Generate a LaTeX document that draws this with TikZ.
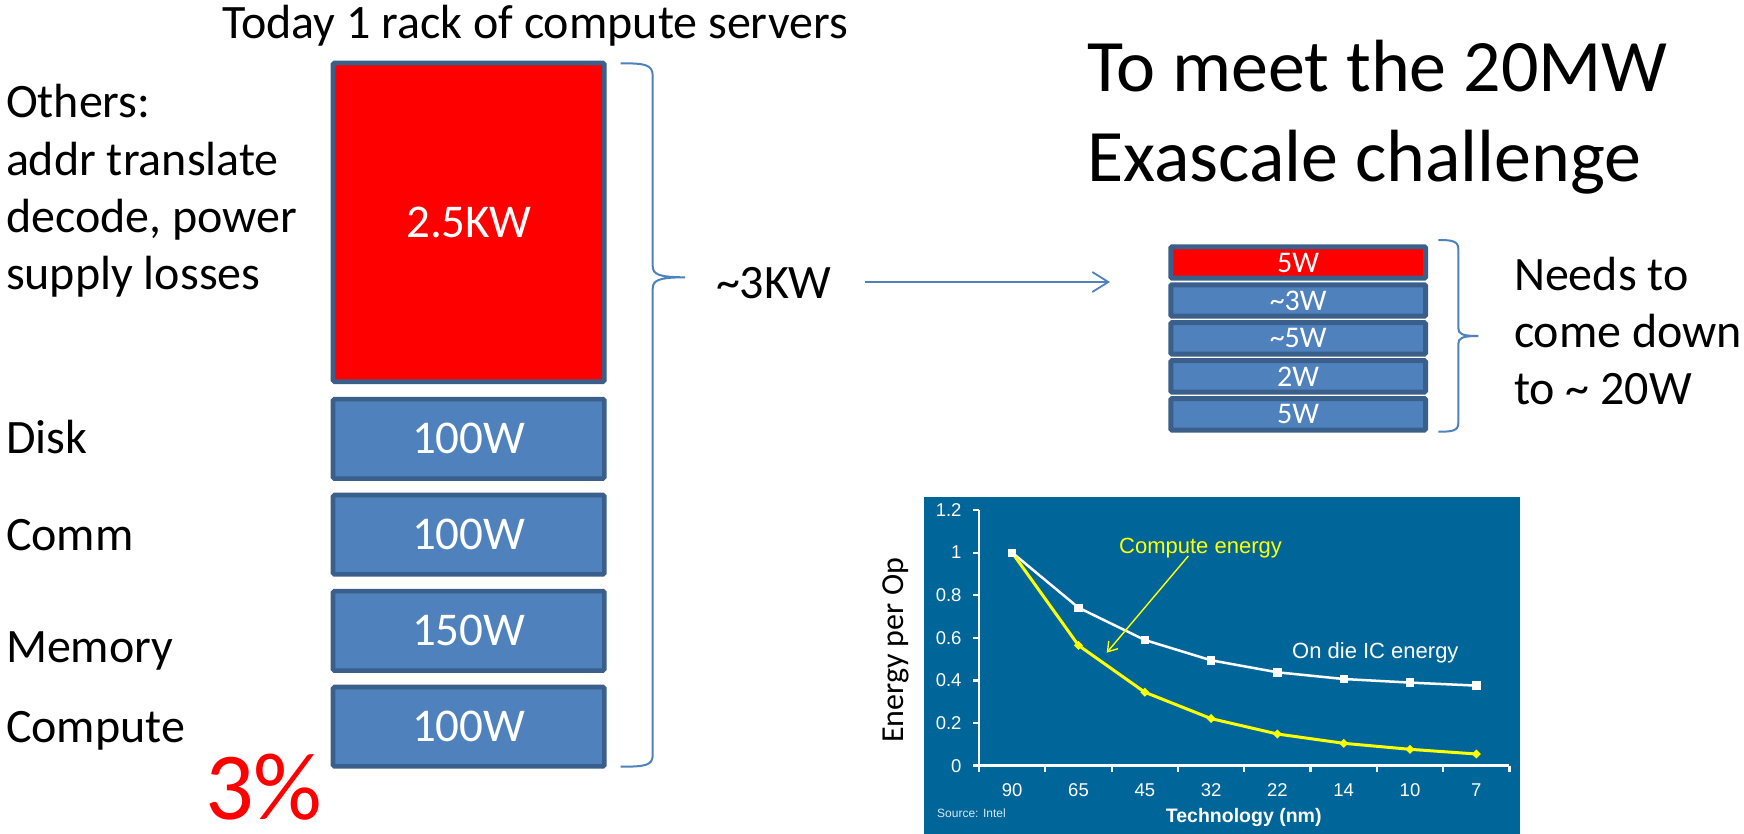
\documentclass[tikz,border=0pt]{standalone}
\usepackage{fontspec}
\setmainfont{Carlito}
\newfontfamily\arialfont{Liberation Sans}
\usetikzlibrary{arrows.meta}
\definecolor{boxfill}{HTML}{4F81BD}
\definecolor{boxline}{HTML}{3A5F8B}
\definecolor{bracecol}{HTML}{4F81BD}
\definecolor{chartbg}{HTML}{006699}
\definecolor{pptred}{HTML}{FF0000}
\definecolor{chartyellow}{HTML}{FFFF00}
\newcommand{\stacklines}[1]{\vtop{\halign{##\hfil\cr#1\crcr}}}
\tikzset{
  lbl/.style={inner sep=0pt, outer sep=0pt, anchor=base west, text=black, font=\fontsize{48}{57.3}\selectfont},
  bigbox/.style={draw=boxline, line width=4.6pt, rounded corners=1.5pt, inner sep=0pt, outer sep=0pt,
    text=white, font=\fontsize{47}{57}\selectfont, minimum width=271.4pt},
  rowbox/.style={draw=boxline, line width=5pt, rounded corners=1.2pt, inner sep=0pt, outer sep=0pt,
    text=white, font=\fontsize{30}{36}\selectfont, minimum width=254.7pt, minimum height=31.4pt},
  brace/.style={draw=bracecol, line width=2pt},
  conn/.style={draw=bracecol, line width=1.8pt, -{Straight Barb[length=16pt,width=20pt]}},
  ticklabel/.style={inner sep=0pt, text=white, font=\arialfont\fontsize{18.5}{22}\selectfont},
  chartlbl/.style={inner sep=0pt, anchor=base west, font=\arialfont\fontsize{22}{26}\selectfont},
  axis/.style={draw=white, line width=2.6pt},
}
\begin{document}
\begin{tikzpicture}[x=1pt,y=-1pt]
\useasboundingbox (0,0) rectangle (1744,834);

% ---------- left rack ----------
\node[lbl] (title) at (222,39) {Today 1 rack of compute servers};

\node[bigbox, fill=pptred, minimum height=318.7pt] (othersbox) at (468.7,222.35) {2.5KW};
\node[bigbox, fill=boxfill, minimum height=79.4pt] (diskbox) at (468.7,438.85) {100W};
\node[bigbox, fill=boxfill, minimum height=79.4pt] (commbox) at (468.7,534.7) {100W};
\node[bigbox, fill=boxfill, minimum height=79.4pt] (membox) at (468.7,630.85) {150W};
\node[bigbox, fill=boxfill, minimum height=79.4pt] (compbox) at (468.7,726.7) {100W};

\node[lbl] (otherslbl) at (6,118) {\stacklines{Others:\cr addr translate\cr decode, power\cr supply losses}};
\node[lbl] (disklbl) at (6,453) {Disk};
\node[lbl] (commlbl) at (6,550) {Comm};
\node[lbl] (memlbl) at (6,662) {Memory};
\node[lbl] (complbl) at (6,742) {Compute};
\node[inner sep=0pt, anchor=base west, text=pptred, text depth=0pt, font=\fontsize{96}{110}\selectfont] (pct) at (205,819) {3\%};

% big brace
\draw[brace] (620.7,63.3) .. controls (645,63.3) and (652.7,64.5) .. (652.7,76)
  -- (652.7,266) .. controls (652.7,274) and (658,277.3) .. (685,277.3)
  .. controls (658,277.3) and (652.7,280.6) .. (652.7,288.6)
  -- (652.7,755) .. controls (652.7,765.5) and (645,766.7) .. (620.7,766.7);

\node[lbl] (kw) at (716,298) {\textasciitilde 3KW};

% ---------- right goal ----------
\node[inner sep=0pt, anchor=base west, font=\fontsize{74}{90}\selectfont] (goal) at (1087,92)
  {\stacklines{To meet the 20MW\cr Exascale challenge}};

\node[rowbox, fill=pptred]  (r1) at (1298.15,262.5) {5W};
\node[rowbox, fill=boxfill] (r2) at (1298.15,300.45) {\textasciitilde 3W};
\node[rowbox, fill=boxfill] (r3) at (1298.15,338.4) {\textasciitilde 5W};
\node[rowbox, fill=boxfill] (r4) at (1298.15,376.35) {2W};
\node[rowbox, fill=boxfill] (r5) at (1298.15,414.3) {5W};

\coordinate (arrS) at (865,282);
\coordinate (arrE) at (1110,282);
\draw[conn] (arrS) -- (arrE);

% small brace
\draw[brace] (1438.3,240) .. controls (1452,240) and (1458.3,241) .. (1458.3,249)
  -- (1458.3,328) .. controls (1458.3,334) and (1462,336) .. (1478.3,336)
  .. controls (1462,336) and (1458.3,338) .. (1458.3,344)
  -- (1458.3,423) .. controls (1458.3,431) and (1452,431.7) .. (1438.3,431.7);

\node[lbl] (needs) at (1514,290) {\stacklines{Needs to\cr come down\cr to \textasciitilde{} 20W}};

% ---------- chart ----------
\node[fill=chartbg, inner sep=0pt, outer sep=0pt, anchor=north west,
  minimum width=596pt, minimum height=337.3pt] (chart) at (924,496.7) {};

\node[rotate=90, anchor=base, inner sep=0pt, font=\fontsize{32}{38}\selectfont] (ylbl) at (903,650.5) {Energy per Op};

\draw[axis] (979,510) -- (979,765.7);
\draw[axis] (973,765.7) -- (1509.4,765.7);
\foreach \yy in {510,552.6,595.2,637.9,680.5,723.1}
  \draw[axis, line width=2.2pt] (973,\yy) -- (979,\yy);
\foreach \xx in {979,1045.3,1111.6,1177.9,1244.2,1310.5,1376.8,1443.1,1509.4}
  \draw[axis, line width=2.2pt] (\xx,765.7) -- (\xx,772);

\foreach \v/\yy [count=\i] in {1.2/510,1/552.6,0.8/595.2,0.6/637.9,0.4/680.5,0.2/723.1,0/765.7}
  \node[ticklabel, anchor=east] (yl\i) at (961.7,\yy) {\v};
\foreach \lab/\xx [count=\i] in {90/1012.2,65/1078.5,45/1144.8,32/1211.1,22/1277.4,14/1343.7,10/1410.0,7/1476.3}
  \node[ticklabel] (xl\i) at (\xx,790) {\lab};

\node[inner sep=0pt, anchor=base, text=white, font=\arialfont\bfseries\fontsize{19.5}{23}\selectfont] (xtitle) at (1243.7,822) {Technology (nm)};
\node[inner sep=0pt, anchor=base west, text=white!85!chartbg, font=\arialfont\fontsize{12}{14}\selectfont] (src) at (937,817.5) {Source: Intel};

% data lines
\draw[white, line width=2.5pt, line join=round]
  (1012.2,552.7) -- (1078.5,607.7) -- (1144.8,640.0) -- (1211.1,660.3) -- (1277.4,672.3)
  -- (1343.7,679.0) -- (1410.0,682.6) -- (1476.3,685.6);
\draw[chartyellow, line width=3pt, line join=round]
  (1012.2,552.7) -- (1078.5,645.4) -- (1144.8,692.2) -- (1211.1,718.6) -- (1277.4,734.0)
  -- (1343.7,743.3) -- (1410.0,749.3) -- (1476.3,754.0);
\foreach \xx/\yy in {1078.5/645.4,1144.8/692.2,1211.1/718.6,1277.4/734.0,1343.7/743.3,1410.0/749.3,1476.3/754.0}
  \fill[chartyellow] (\xx,\yy) +(-4.5pt,0pt) -- +(0pt,4.5pt) -- +(4.5pt,0pt) -- +(0pt,-4.5pt) -- cycle;
\foreach \xx/\yy in {1012.2/552.7,1078.5/607.7,1144.8/640.0,1211.1/660.3,1277.4/672.3,1343.7/679.0,1410.0/682.6,1476.3/685.6}
  \fill[white] (\xx,\yy) +(-4.2pt,-4.2pt) rectangle +(4.2pt,4.2pt);

\node[chartlbl, text=chartyellow] (celbl) at (1119,553.5) {Compute energy};
\coordinate (ceT) at (1188.3,556);
\coordinate (ceH) at (1106.7,652.7);
\draw[chartyellow, line width=1.4pt, -{Straight Barb[length=9pt,width=12pt]}] (ceT) -- (ceH);

\node[chartlbl, text=white] (odlbl) at (1292,658.3) {On die IC energy};
\end{tikzpicture}
\end{document}
